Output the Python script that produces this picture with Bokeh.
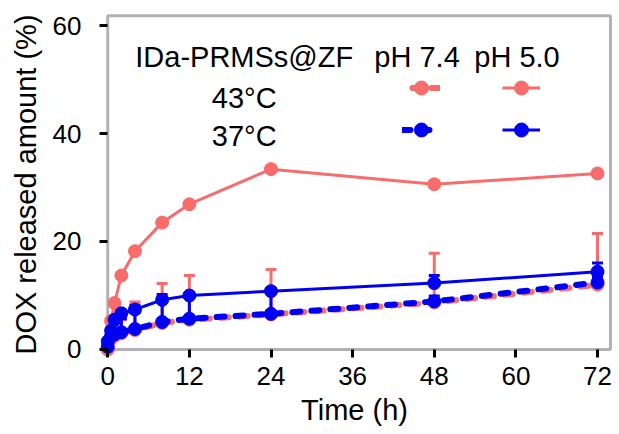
from bokeh.plotting import figure
from bokeh.models import (Whisker, ColumnDataSource, Label, Legend, LegendItem,
                          BoxAnnotation, FixedTicker, Range1d, TeeHead, LinearAxis,
                          CustomJSTickFormatter)
from bokeh.embed import file_html
from bokeh.resources import INLINE

# ---------------- data ----------------
time_h = [0, 0.5, 1, 2, 4, 8, 12, 24, 48, 72]

rel_43_ph50 = [0, 5.3, 8.6, 13.7, 18.2, 23.5, 26.9, 33.4, 30.6, 32.6]
err_43_ph50 = [0, 0.4, 0.5, 0.5, 0.5, 0.5, 0.5, 0.6, 0.6, 0.6]

rel_43_ph74 = [0, 2.0, 2.5, 3.0, 3.6, 4.9, 5.5, 6.5, 8.7, 12.0]
err_43_ph74 = [0, 1.0, 1.5, 2.5, 5.2, 7.3, 8.2, 8.3, 9.1, 9.5]

rel_37_ph50 = [0.5, 3.5, 5.5, 6.7, 7.4, 9.2, 10.0, 10.8, 12.3, 14.4]
err_37_ph50 = [0.3, 0.5, 0.5, 0.6, 0.8, 1.0, 0.5, 0.5, 1.4, 1.6]

rel_37_ph74 = [1.5, 2.5, 2.8, 3.2, 3.8, 5.1, 5.7, 6.6, 8.9, 12.4]
err_37_ph74 = [0.3, 0.5, 1.0, 2.5, 3.0, 4.0, 4.2, 4.0, 1.0, 1.0]

x_ticks = [0, 12, 24, 36, 48, 60, 72]
y_ticks = [0, 20, 40, 60]

legend_header = ["IDa-PRMSs@ZF", "pH 7.4", "pH 5.0"]
legend_rows = ["43°C", "37°C"]

PINK = "#F86C6C"
BLUE = "#0000F2"
FONT = "Liberation Sans"

# ---------------- figure ----------------
p = figure(width=619, height=434, output_backend="svg", toolbar_location=None,
           x_range=Range1d(-1.8, 74.35), y_range=Range1d(-1.67, 62.78),
           min_border_left=95, min_border_right=6, min_border_top=10,
           min_border_bottom=76)
p.outline_line_color = None
p.grid.visible = False
p.background_fill_color = "white"

# frame box
p.add_layout(BoxAnnotation(left=0, right=73.9, bottom=0, top=61.8,
                           fill_alpha=0, line_color="black", line_width=3,
                           level="underlay"))

def make_src(y, e):
    return ColumnDataSource(dict(x=time_h, y=y, up=[a + b for a, b in zip(y, e)]))

series = {
    "p74": (rel_43_ph74, err_43_ph74, PINK, True),
    "p50": (rel_43_ph50, err_43_ph50, PINK, False),
    "b74": (rel_37_ph74, err_37_ph74, BLUE, True),
    "b50": (rel_37_ph50, err_37_ph50, BLUE, False),
}
rends = {}
for key in ["p74", "p50", "b74", "b50"]:
    y, e, col, dashed = series[key]
    src = make_src(y, e)
    w = Whisker(base="x", upper="up", lower="y", source=src, dimension="height",
                line_color=col, line_width=3, level="underlay",
                upper_head=TeeHead(size=11, line_color=col, line_width=3),
                lower_head=None)
    p.add_layout(w)
for key in ["p74", "p50", "b74", "b50"]:
    y, e, col, dashed = series[key]
    src = make_src(y, e)
    if dashed:
        ln = p.line("x", "y", source=src, line_color=col, line_width=6,
                    line_dash="8 11", line_cap="round",
                    line_dash_offset=(0 if col == BLUE else 9))
    else:
        ln = p.line("x", "y", source=src, line_color=col, line_width=3)
    sc = p.scatter("x", "y", source=src, size=13, marker="circle",
                   fill_color=col, line_color=col)
    rends[key] = [ln, sc]

# label axes (at frame edges, no tick marks)
for ax in (p.xaxis[0], p.yaxis[0]):
    ax.axis_line_color = None
    ax.major_tick_line_color = None
    ax.major_tick_out = 0
    ax.major_tick_in = 0
    ax.minor_tick_line_color = None
    ax.major_label_text_font = FONT
    ax.major_label_text_font_size = "26px"
    ax.major_label_text_color = "black"
    ax.axis_label_text_font = FONT
    ax.axis_label_text_font_size = "29px"
    ax.axis_label_text_font_style = "normal"
    ax.axis_label_text_color = "black"

p.xaxis.ticker = FixedTicker(ticks=x_ticks)
p.yaxis.ticker = FixedTicker(ticks=y_ticks)
p.xaxis.axis_label = "Time (h)"
p.yaxis.axis_label = "DOX released amount (%)"
p.xaxis.major_label_standoff = 8
p.xaxis.axis_label_standoff = 6
p.yaxis.major_label_standoff = 14
p.yaxis.axis_label_standoff = 8

# tick-mark axes sitting on the data origin
blank = CustomJSTickFormatter(code="return ''")
tx = LinearAxis(fixed_location=0, ticker=FixedTicker(ticks=x_ticks), formatter=blank,
                axis_line_color=None, major_tick_line_width=3, major_tick_out=8,
                major_tick_in=0, minor_tick_line_color=None)
ty = LinearAxis(fixed_location=0, ticker=FixedTicker(ticks=y_ticks), formatter=blank,
                axis_line_color=None, major_tick_line_width=3, major_tick_out=8,
                major_tick_in=0, minor_tick_line_color=None)
p.add_layout(tx, "below")
p.add_layout(ty, "left")

# legend text (header + row labels)
def px_to_x(px):
    return (px - 107) / 6.806

def py_to_y(py):
    return (349 - py) / 5.4

hdr_x = [243.6, 416.5, 516.5]
for txt, hx in zip(legend_header, hdr_x):
    p.add_layout(Label(x=px_to_x(hx), y=py_to_y(56.5), text=txt,
                       text_align="center", text_baseline="alphabetic",
                       text_font=FONT, text_font_size="29px", text_color="black"))
for txt, ry in zip(legend_rows, [97.5, 135.4]):
    p.add_layout(Label(x=px_to_x(243.5), y=py_to_y(ry), text=txt,
                       text_align="center", text_baseline="alphabetic",
                       text_font=FONT, text_font_size="29px", text_color="black"))

items = [LegendItem(label=" ", renderers=rends[k]) for k in ["p74", "b74", "p50", "b50"]]
leg = Legend(items=items, orientation="vertical", ncols=2,
             location=(307.25, 210.6), glyph_width=38, glyph_height=35,
             spacing=7, label_width=55, label_standoff=0,
             label_text_font_size="2px", padding=0, margin=0,
             border_line_alpha=0, background_fill_alpha=0)
p.add_layout(leg, "center")

open("out.html", "w").write(file_html(p, INLINE))
